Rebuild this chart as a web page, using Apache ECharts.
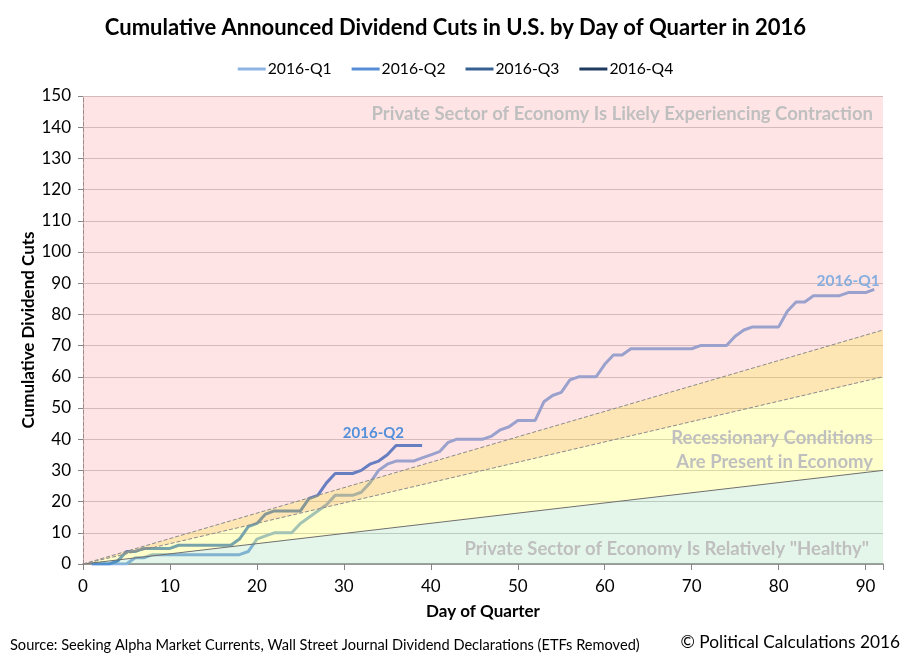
<!DOCTYPE html>
<html>
<head>
<meta charset="utf-8">
<script src="https://cdn.jsdelivr.net/npm/echarts@6/dist/echarts.min.js"></script>
<style>
html,body{margin:0;padding:0;background:#fff;}
#chart{width:911px;height:661px;}
</style>
</head>
<body>
<div id="chart"></div>
<script>
// ---- Data ----
const q1Days = [];
for (let d = 1; d <= 91; d++) q1Days.push(d);
const q1Values = [0,0,0,0,0,2,2,3,3,3, 3,3,3,3,3,3,3,3,4,8,
                  9,10,10,10,13,15,17,19,22,22, 22,23,26,30,32,33,33,33,34,35,
                  36,39,40,40,40,40,41,43,44,46, 46,46,52,54,55,59,60,60,60,64,
                  67,67,69,69,69,69,69,69,69,69, 70,70,70,70,73,75,76,76,76,76,
                  81,84,84,86,86,86,86,87,87,87, 88];
const q2Days = [];
for (let d = 1; d <= 39; d++) q2Days.push(d);
const q2Values = [0,0,0,1,4,4,5,5,5,5, 6,6,6,6,6,6,6,8,12,13,
                  16,17,17,17,17,21,22,26,29,29, 29,30,32,33,35,38,38,38,38];
const q3Values = [];
const q4Values = [];

const seriesNames = ['2016-Q1','2016-Q2','2016-Q3','2016-Q4'];
const xTicks = [0,10,20,30,40,50,60,70,80,90];
const yTicks = [0,10,20,30,40,50,60,70,80,90,100,110,120,130,140,150];

// zone boundary lines run from (0,0) to (zoneEndDay, value)
const zoneEndDay = 92;
const healthyEnd = 30;      // top of green zone
const recessionEnd = 60;    // top of yellow zone
const warningEnd = 75;      // top of orange zone
const yMax = 150;

// bands: [lower value at zoneEndDay, upper value at zoneEndDay, upper value at day 0]
const bands = [
  [0, healthyEnd, 0],
  [healthyEnd, recessionEnd, 0],
  [recessionEnd, warningEnd, 0],
  [warningEnd, yMax, yMax]
];
const bandFills = ['rgba(30,172,80,0.12)','rgba(255,255,0,0.2)','rgba(248,172,5,0.3)','rgba(255,0,19,0.106)'];

function pairs(days, vals){ return vals.map((v,i)=>[days[i], v]); }

const FONT = 'Lato';
const colors = ['#8DB4E2','#558ED5','#376092','#1F3A5F'];

const chart = echarts.init(document.getElementById('chart'));
const last1 = q1Values.length - 1, last2 = q2Values.length - 1;

function boundary(endVal, color, type){
  return {type: 'line', data: [[0,0],[zoneEndDay,endVal]], symbol: 'none', silent: true,
    z: 4, lineStyle: {color: color, type: type, width: 1}, legendHoverLink: false};
}

chart.setOption({
  animation: false,
  textStyle: {fontFamily: FONT},
  title: {
    text: 'Cumulative Announced Dividend Cuts in U.S. by Day of Quarter in 2016',
    left: 'center', top: 12,
    textStyle: {fontFamily: FONT, fontWeight: 'bold', fontSize: 22, color: '#000'}
  },
  legend: {
    data: seriesNames, top: 56, left: 'center',
    icon: 'rect', itemWidth: 28, itemHeight: 3, itemGap: 20,
    textStyle: {fontFamily: FONT, fontSize: 15.7, color: '#000', padding: [0,0,0,-3]}
  },
  grid: {left: 83, right: 28, top: 96, bottom: 97},
  xAxis: [{
    type: 'value', min: 0, max: zoneEndDay, interval: 10,
    name: 'Day of Quarter', nameLocation: 'middle', nameGap: 39,
    nameTextStyle: {fontFamily: FONT, fontWeight: 'bold', fontSize: 17, color: '#000'},
    axisLine: {show: true, lineStyle: {color: '#868686', width: 1.5}},
    axisTick: {show: true, length: 6, lineStyle: {color: '#868686'}},
    axisLabel: {fontFamily: FONT, fontSize: 17, color: '#000', margin: 14,
      formatter: v => xTicks.includes(v) ? String(v) : ''},
    splitLine: {show: false}
  },{
    type: 'value', min: 0, max: zoneEndDay, position: 'top',
    axisLine: {show: true, lineStyle: {color: '#999', type: 'dashed', width: 1}},
    axisTick: {show: false}, axisLabel: {show: false}, splitLine: {show: false}
  }],
  yAxis: [{
    type: 'value', min: 0, max: yMax, interval: 10,
    name: 'Cumulative Dividend Cuts', nameLocation: 'middle', nameGap: 46,
    nameMoveOverlap: false,
    nameTextStyle: {fontFamily: FONT, fontWeight: 'bold', fontSize: 17, color: '#000'},
    axisLine: {show: true, lineStyle: {color: '#999', width: 1, type: 'dashed'}},
    axisTick: {show: true, length: 5, lineStyle: {color: '#868686'}},
    axisLabel: {fontFamily: FONT, fontSize: 17, color: '#000', margin: 12,
      formatter: v => yTicks.includes(v) ? String(v) : ''},
    splitLine: {show: true, lineStyle: {color: '#d0d0d0', width: 1}}
  },{
    type: 'value', min: 0, max: yMax, position: 'right',
    axisLine: {show: true, lineStyle: {color: '#999', type: 'dashed', width: 1}},
    axisTick: {show: false}, axisLabel: {show: false}, splitLine: {show: false}
  }],
  series: [
    {
      name: seriesNames[0], type: 'line', data: pairs(q1Days, q1Values),
      symbol: 'none', z: 2, color: colors[0],
      lineStyle: {width: 3, color: colors[0]},
      markPoint: {
        symbol: 'circle', symbolSize: 0,
        label: {show: true, formatter: seriesNames[0], color: '#86AEDF',
          fontFamily: FONT, fontWeight: 'bold', fontSize: 15.5},
        data: [{coord: [q1Days[last1] - 3.0, q1Values[last1] + 2.6]}]
      }
    },
    {
      name: seriesNames[1], type: 'line', data: pairs(q2Days, q2Values),
      symbol: 'none', z: 2, color: colors[1],
      lineStyle: {width: 3, color: colors[1]},
      markPoint: {
        symbol: 'circle', symbolSize: 0,
        label: {show: true, formatter: seriesNames[1], color: '#5390D9',
          fontFamily: FONT, fontWeight: 'bold', fontSize: 15},
        data: [{coord: [q2Days[last2] - 5.6, q2Values[last2] + 4.0]}]
      }
    },
    {name: seriesNames[2], type: 'line', data: q3Values, symbol: 'none', z: 2,
      color: colors[2], lineStyle: {width: 3, color: colors[2]}},
    {name: seriesNames[3], type: 'line', data: q4Values, symbol: 'none', z: 2,
      color: colors[3], lineStyle: {width: 3, color: colors[3]}},
    {
      type: 'custom', z: 3, silent: true, data: bands,
      renderItem: function(params, api){
        const lowEnd = api.value(0), highEnd = api.value(1), highStart = api.value(2);
        const pts = [api.coord([0,0]), api.coord([zoneEndDay, lowEnd]),
                     api.coord([zoneEndDay, highEnd]), api.coord([0, highStart])];
        return {type: 'polygon', shape: {points: pts},
                style: {fill: bandFills[params.dataIndex], stroke: 'none'}};
      },
      encode: {x: -1, y: -1}
    },
    boundary(healthyEnd, '#6f6f6f', 'solid'),
    boundary(recessionEnd, '#8a8a8a', 'dashed'),
    boundary(warningEnd, '#8a8a8a', 'dashed')
  ],
  graphic: [
    {type: 'text', right: 38, top: 105, z: 10, silent: true,
      style: {text: 'Private Sector of Economy Is Likely Experiencing Contraction',
        fill: '#BFBFBF', font: 'bold 18.5px ' + FONT}},
    {type: 'text', right: 38, top: 429, z: 10, silent: true,
      style: {text: 'Recessionary Conditions', fill: '#BFBFBF', font: 'bold 18.5px ' + FONT}},
    {type: 'text', right: 38, top: 453, z: 10, silent: true,
      style: {text: 'Are Present in Economy', fill: '#BFBFBF', font: 'bold 18.5px ' + FONT}},
    {type: 'text', right: 42, top: 540, z: 10, silent: true,
      style: {text: 'Private Sector of Economy Is Relatively "Healthy"',
        fill: '#BFBFBF', font: 'bold 18.5px ' + FONT}},
    {type: 'text', left: 10, top: 638, silent: true,
      style: {text: 'Source: Seeking Alpha Market Currents, Wall Street Journal Dividend Declarations (ETFs Removed)',
        fill: '#000', font: '14.6px ' + FONT}},
    {type: 'text', right: 11, top: 634, silent: true,
      style: {text: '\u00A9 Political Calculations 2016', fill: '#000', font: '17.3px ' + FONT}}
  ]
});
</script>
</body>
</html>
